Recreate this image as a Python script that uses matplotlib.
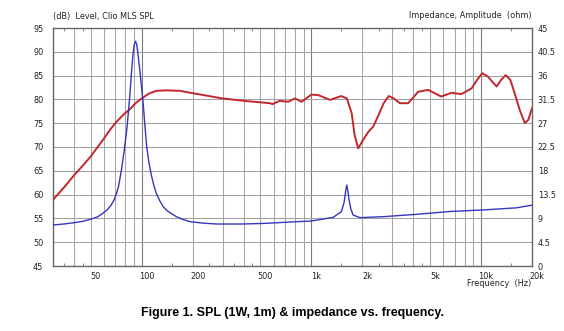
import numpy as np
import matplotlib
matplotlib.use("Agg")
import matplotlib.pyplot as plt
from matplotlib.ticker import FixedLocator, LogLocator, NullFormatter, FuncFormatter
from matplotlib.transforms import ScaledTranslation

# SPL curve (dB)
spl_freq = [30, 35, 40, 45, 50, 55, 60, 65, 71, 78, 85, 92, 100, 110, 122, 140, 168, 193,
            300, 400, 570, 590, 650, 730, 800, 876, 1000, 1100, 1290, 1500, 1620, 1730,
            1800, 1890, 2020, 2170, 2320, 2490, 2670, 2860, 3060, 3330, 3720, 3990, 4260,
            4890, 5340, 5830, 6710, 7650, 8800, 9490, 10180, 10980, 12370, 13150, 13990,
            14900, 15800, 16920, 18160, 19020, 20000]
spl_db = [58.9, 61.6, 64.1, 66.1, 68.0, 70.0, 71.8, 73.6, 75.3, 76.8, 77.9, 79.2, 80.2,
          81.2, 81.8, 81.9, 81.8, 81.4, 80.2, 79.7, 79.2, 79.0, 79.7, 79.5, 80.2, 79.5,
          81.0, 80.9, 79.9, 80.7, 80.2, 77.1, 72.5, 69.7, 71.5, 73.2, 74.3, 76.7, 79.2,
          80.7, 80.2, 79.2, 79.2, 80.4, 81.6, 82.0, 81.3, 80.6, 81.4, 81.1, 82.3, 84.1,
          85.5, 84.8, 82.7, 84.1, 85.1, 84.1, 81.3, 77.8, 75.0, 75.7, 78.1]

# impedance curve (ohm)
imp_freq = [30, 35, 40, 45, 50, 55, 59, 63, 66, 69, 71, 73, 76, 79, 82, 85, 87, 89, 90.5,
            92, 93.5, 95, 97.5, 100, 102, 104.5, 107, 110, 114, 118, 122, 128, 134, 142,
            150, 160, 175, 193, 230, 276, 397, 544, 818, 1000, 1347, 1505, 1560, 1600,
            1618, 1640, 1669, 1710, 1763, 1935, 2666, 4170, 6530, 10290, 16200, 20000]
imp_ohm = [7.75, 7.95, 8.19, 8.45, 8.83, 9.3, 9.96, 10.7, 11.5, 12.6, 13.7, 15.0, 18.2,
           22.0, 26.3, 32.0, 36.5, 40.2, 41.9, 42.5, 41.9, 40.2, 37.0, 33.5, 30.8, 26.5,
           22.6, 19.8, 17.2, 15.2, 13.7, 12.3, 11.2, 10.4, 9.9, 9.33, 8.8, 8.38, 8.1,
           7.94, 7.94, 8.07, 8.38, 8.51, 9.2, 10.3, 12.0, 14.5, 15.3, 14.3, 12.5, 10.8,
           9.64, 9.14, 9.33, 9.77, 10.3, 10.6, 11.0, 11.5]

freq_ticks = [50, 100, 200, 500, 1000, 2000, 5000, 10000, 20000]
freq_labels = ["50", "100", "200", "500", "1k", "2k", "5k", "10k", "20k"]
half_ticks = [35, 45, 150, 250, 350, 450, 1500, 2500, 3500, 4500, 15000]
db_ticks = list(range(45, 96, 5))
ohm_ticks = [0, 4.5, 9, 13.5, 18, 22.5, 27, 31.5, 36, 40.5, 45]

plt.rcParams["font.family"] = "DejaVu Sans"
fs = 5.9
txt = "#222222"

fig = plt.figure(figsize=(5.64, 3.31), dpi=100)
ax = fig.add_axes([53 / 564, 1 - 266 / 331, (532 - 53) / 564, (266 - 28) / 331])

ax.set_xscale("log")
ax.set_xlim(30, 20000)
ax.set_ylim(45, 95)

# grid
ax.xaxis.set_major_locator(LogLocator(base=10, subs=(1.0,)))
ax.xaxis.set_minor_locator(LogLocator(base=10, subs=np.arange(2, 10)))
ax.xaxis.set_major_formatter(NullFormatter())
ax.xaxis.set_minor_formatter(NullFormatter())
ax.grid(True, which="major", axis="x", color="#7c7c7c", lw=0.8)
ax.grid(True, which="minor", axis="x", color="#a6a6a6", lw=0.75)
ax.set_yticks(db_ticks)
ax.grid(True, which="major", axis="y", color="#a0a0a0", lw=0.75)
ax.tick_params(axis="x", which="both", length=0)
ax.tick_params(axis="y", length=0, pad=7, labelsize=fs, labelcolor=txt)

for s in ax.spines.values():
    s.set_color("#666666")
    s.set_linewidth(1.0)

# tick labels + small half-decade ticks
sec = ax.secondary_xaxis("bottom")
sec.set_xticks(freq_ticks, freq_labels)
sec.xaxis.set_minor_locator(FixedLocator(half_ticks))
sec.xaxis.set_minor_formatter(NullFormatter())
sec.tick_params(which="major", length=0, pad=4, labelsize=fs, labelcolor=txt)
sec.tick_params(which="minor", direction="in", length=2.5, width=0.6, color="#777777")
sec.spines["bottom"].set_visible(False)
off = ScaledTranslation(5 / 100, 0, fig.dpi_scale_trans)
for lab in sec.get_xticklabels():
    lab.set_transform(lab.get_transform() + off)

top = ax.secondary_xaxis("top")
top.set_xticks([])
top.xaxis.set_minor_locator(FixedLocator(half_ticks))
top.xaxis.set_minor_formatter(NullFormatter())
top.tick_params(which="minor", direction="in", length=2.5, width=0.6, color="#777777")
top.spines["top"].set_visible(False)

ax.plot(spl_freq, spl_db, color="#c0282c", lw=1.4, zorder=4)

ax2 = ax.twinx()
ax2.set_ylim(0, 45)
ax2.set_yticks(ohm_ticks)
ax2.yaxis.set_major_formatter(FuncFormatter(lambda v, p: "%g" % v))
ax2.tick_params(axis="y", length=0, pad=4, labelsize=fs, labelcolor=txt)
for s in ax2.spines.values():
    s.set_visible(False)
ax2.plot(imp_freq, imp_ohm, color="#3535c0", lw=1.0, zorder=3)

fig.text(53 / 564, 1 - 16 / 331, "(dB)  Level, Clio MLS SPL", fontsize=fs, color=txt,
         ha="left", va="center")
fig.text(532 / 564, 1 - 16 / 331, "Impedance, Amplitude  (ohm)", fontsize=fs, color=txt,
         ha="right", va="center")
fig.text(531 / 564, 1 - 284 / 331, "Frequency  (Hz)", fontsize=fs, color=txt,
         ha="right", va="center")
fig.text(293 / 564, 1 - 313 / 331, "Figure 1. SPL (1W, 1m) & impedance vs. frequency.",
         fontsize=9, fontweight="bold", family="Liberation Sans", ha="center", va="center")

fig.savefig("out.png", dpi=100)
